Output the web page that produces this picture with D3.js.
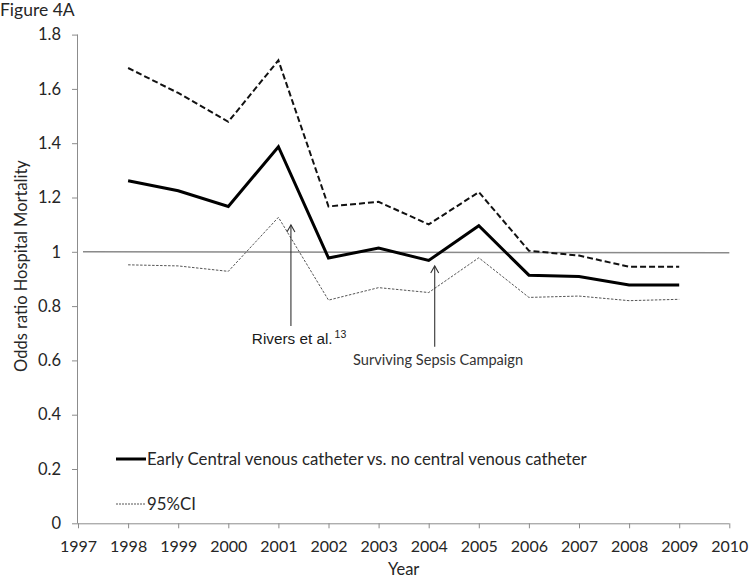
<!DOCTYPE html>
<html>
<head>
<meta charset="utf-8">
<script src="https://cdn.jsdelivr.net/npm/d3@7"></script>
<style>
  html, body { margin: 0; padding: 0; background: #fff; }
  svg { display: block; }
  text { font-family: "Lato", "Open Sans", sans-serif; fill: #262626; }
  text.arial { font-family: "Liberation Sans", Arial, sans-serif; fill: #1a1a1a; }
</style>
</head>
<body>
<script>
// ---- data ----
const years = [1998, 1999, 2000, 2001, 2002, 2003, 2004, 2005, 2006, 2007, 2008, 2009];
const oddsRatio = [1.262, 1.225, 1.167, 1.387, 0.977, 1.014, 0.968, 1.096, 0.914, 0.909, 0.878, 0.878];
const upperCI = [1.677, 1.585, 1.479, 1.705, 1.167, 1.184, 1.101, 1.220, 1.004, 0.986, 0.945, 0.945];
const lowerCI = [0.952, 0.948, 0.928, 1.127, 0.822, 0.868, 0.850, 0.978, 0.832, 0.837, 0.820, 0.825];
const xTicks = [1997, 1998, 1999, 2000, 2001, 2002, 2003, 2004, 2005, 2006, 2007, 2008, 2009, 2010];
const yTicks = [0, 0.2, 0.4, 0.6, 0.8, 1, 1.2, 1.4, 1.6, 1.8];
const referenceValue = 1;
// annotations: label, year of arrow, arrow tip value, arrow tail value, label anchor (year, value)
const annotationLabels = ["Rivers et al.", "Surviving Sepsis Campaign"];
const annotationSup = ["13", ""];
const annotationYear = [2001.25, 2004.12];
const annotationTip = [1.099, 0.948];
const annotationTail = [0.727, 0.650];
const annotationTextYear = [2000.47, 2002.49];
const annotationTextValue = [0.661, 0.583];
const legendLabels = ["Early Central venous catheter vs. no central venous catheter", "95%CI"];

// ---- layout ----
const W = 750, H = 579;
const svg = d3.select("body").append("svg").attr("width", W).attr("height", H);

const x = d3.scaleLinear().domain([1997, 2010]).range([78, 729.3]);
const y = d3.scaleLinear().domain([0, 1.8]).range([523.3, 34.6]);

// title
svg.append("text").attr("x", 0).attr("y", 16).attr("font-size", 17.5).text("Figure 4A");

// y axis
const yAxis = svg.append("g").attr("transform", `translate(${x(1997)},0)`)
  .call(d3.axisLeft(y).tickValues(yTicks).tickSize(6).tickPadding(11)
        .tickFormat(d => String(+d.toFixed(1))));
yAxis.select(".domain").attr("stroke", "#8c8c8c").attr("d", `M-0.5,${y(0)}V${y(1.8)}`);
yAxis.selectAll(".tick line").attr("stroke", "#8c8c8c");
yAxis.selectAll(".tick text").attr("font-size", 16.5).attr("fill", "#262626");

// x axis
const xAxis = svg.append("g").attr("transform", `translate(0,${y(0)})`)
  .call(d3.axisBottom(x).tickValues(xTicks).tickSize(5).tickPadding(12).tickFormat(d3.format("d")));
xAxis.select(".domain").attr("stroke", "#8c8c8c").attr("d", `M${x(1997)},0.5H${x(2010)}`);
xAxis.selectAll(".tick line").attr("stroke", "#8c8c8c");
xAxis.selectAll(".tick text").attr("font-size", 16).attr("fill", "#262626");

// axis titles
svg.append("text").attr("x", (x(1997) + x(2010)) / 2).attr("y", 575)
  .attr("text-anchor", "middle").attr("font-size", 16.5).text("Year");
svg.append("text").attr("transform", `translate(27,266) rotate(-90)`)
  .attr("text-anchor", "middle").attr("font-size", 16.5).text("Odds ratio Hospital Mortality");

// reference line at 1
svg.append("line")
  .attr("x1", x(1997) + 5).attr("x2", x(2010))
  .attr("y1", y(referenceValue)).attr("y2", y(referenceValue) + 1)
  .attr("stroke", "#8a8a8a").attr("stroke-width", 1.5);

const line = d3.line().x((d, i) => x(years[i])).y(d => y(d));

// lower CI (thin dotted)
svg.append("path").attr("d", line(lowerCI)).attr("fill", "none")
  .attr("stroke", "#555").attr("stroke-width", 1).attr("stroke-dasharray", "2.5,1.5");
// upper CI (dashed)
svg.append("path").attr("d", line(upperCI)).attr("fill", "none")
  .attr("stroke", "#111").attr("stroke-width", 2).attr("stroke-dasharray", "6,3");
// main
svg.append("path").attr("d", line(oddsRatio)).attr("fill", "none")
  .attr("stroke", "#000").attr("stroke-width", 3).attr("stroke-linejoin", "miter");

// arrow marker (open V, pointing along the line direction)
svg.append("defs").append("marker")
  .attr("id", "arrowhead").attr("viewBox", "-10 -6 12 12")
  .attr("refX", 0).attr("refY", 0).attr("markerWidth", 12).attr("markerHeight", 12)
  .attr("markerUnits", "userSpaceOnUse").attr("orient", "auto")
  .append("path").attr("d", "M-7,-4L0,0L-7,4").attr("fill", "none")
  .attr("stroke", "#333").attr("stroke-width", 1.1);

annotationLabels.forEach((lab, i) => {
  svg.append("line")
    .attr("x1", x(annotationYear[i])).attr("x2", x(annotationYear[i]))
    .attr("y1", y(annotationTail[i])).attr("y2", y(annotationTip[i]))
    .attr("stroke", "#333").attr("stroke-width", 1.1)
    .attr("marker-end", "url(#arrowhead)");
});

// Rivers label (Arial-like)
const t0 = svg.append("text").attr("class", "arial")
  .attr("x", x(annotationTextYear[0])).attr("y", y(annotationTextValue[0]))
  .attr("font-size", 15.3);
t0.append("tspan").text(annotationLabels[0]);
t0.append("tspan").attr("font-size", 10.5).attr("dy", -6).attr("dx", 2).text(annotationSup[0]);

// Surviving Sepsis label
svg.append("text")
  .attr("x", x(annotationTextYear[1])).attr("y", y(annotationTextValue[1]))
  .attr("font-size", 14.6).style("fill", "#333").text(annotationLabels[1]);

// legend
const lg = svg.append("g");
lg.append("line").attr("x1", 116).attr("x2", 146).attr("y1", 459).attr("y2", 459)
  .attr("stroke", "#000").attr("stroke-width", 3);
lg.append("text").attr("x", 147).attr("y", 465).attr("font-size", 16.8).text(legendLabels[0]);
lg.append("line").attr("x1", 116).attr("x2", 145).attr("y1", 504).attr("y2", 504)
  .attr("stroke", "#555").attr("stroke-width", 1).attr("stroke-dasharray", "2,1");
lg.append("text").attr("x", 147).attr("y", 510).attr("font-size", 16.8).text(legendLabels[1]);
</script>
</body>
</html>
